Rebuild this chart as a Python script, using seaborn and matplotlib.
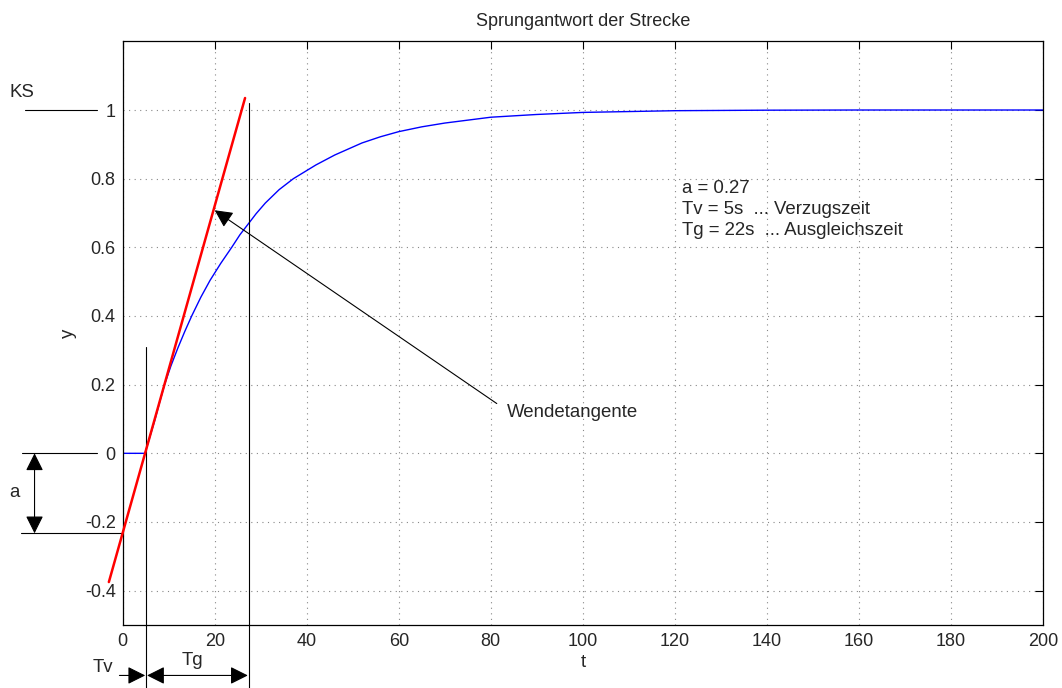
import matplotlib
matplotlib.use("Agg")
import matplotlib.pyplot as plt
import seaborn as sns
import pandas as pd

# ---- data ----
time_s = [0, 4.85, 6.0, 7.0, 8.0, 9.1, 10.5, 12.0, 13.5, 15.0, 17.0, 19.0, 21.3,
          23.7, 25.5, 27.4, 29.0, 31.0, 34.0, 37.1, 42.0, 46.1, 52.0, 56.0, 60.0,
          65.0, 70.0, 80.0, 90.0, 100.0, 120.0, 140.0, 160.0, 180.0, 200.0]
step_y = [0, 0, 0.052, 0.097, 0.147, 0.20, 0.255, 0.307, 0.355, 0.40, 0.455, 0.504,
          0.553, 0.60, 0.637, 0.67, 0.698, 0.729, 0.768, 0.80, 0.84, 0.869, 0.904,
          0.922, 0.937, 0.951, 0.962, 0.979, 0.987, 0.993, 0.998, 0.9995, 1.0, 1.0, 1.0]
tangent_t = [-3.0, 26.6]
tangent_y = [-0.375, 1.035]

Tv = 5.0          # Verzugszeit end
Tg_end = 27.4     # Tv + Tg
a_level = -0.233  # tangent intercept at t=0
KS = 1.0

x_ticks = list(range(0, 201, 20))
y_ticks = [-0.4, -0.2, 0, 0.2, 0.4, 0.6, 0.8, 1.0]
y_tick_labels = ["-0.4", "-0.2", "0", "0.2", "0.4", "0.6", "0.8", "1"]

title = "Sprungantwort der Strecke"
info_lines = ["a = 0.27", "Tv = 5s  ... Verzugszeit", "Tg = 22s  ... Ausgleichszeit"]

# ---- style ----
sns.set_style("white")
plt.rcParams["font.family"] = ["Liberation Sans", "DejaVu Sans"]
plt.rcParams["font.size"] = 13

FS = 13.4

fig = plt.figure(figsize=(10.62, 6.88), dpi=100)
ax = fig.add_axes([0.1155, 0.0916, 0.8666, 0.8483])

df_step = pd.DataFrame({"t": time_s, "y": step_y})
df_tan = pd.DataFrame({"t": tangent_t, "y": tangent_y})

sns.lineplot(data=df_step, x="t", y="y", ax=ax, color="#0000ff", lw=1.0, sort=False)
sns.lineplot(data=df_tan, x="t", y="y", ax=ax, color="#ff0000", lw=1.8, sort=False,
             clip_on=False, zorder=4)

ax.set_xlim(0, 200)
ax.set_ylim(-0.5, 1.2)
ax.set_xticks(x_ticks)
ax.set_xticklabels([str(v) for v in x_ticks])
ax.set_yticks(y_ticks)
ax.set_yticklabels(y_tick_labels)
ax.tick_params(direction="in", top=True, right=True, length=6, width=0.8,
               labelsize=13, color="black")
ax.tick_params(axis="x", pad=6)
ax.tick_params(axis="y", pad=5)
ax.grid(True, linestyle=(0, (1, 4)), color="#888888", lw=0.8)
for s in ax.spines.values():
    s.set_color("black")
    s.set_linewidth(0.9)

ax.set_xlabel("t", fontsize=FS, labelpad=3)
ax.set_ylabel("y", fontsize=FS, labelpad=6)
ax.set_title(title, fontsize=13, pad=11)

# ---- annotations ----
kw = dict(color="black", lw=0.8, clip_on=False)
# KS level line
ax.plot([-21.3, -5.66], [KS, KS], **kw)
ax.text(-24.6, 1.052, "KS", ha="left", va="center", fontsize=FS)
# zero level line
ax.plot([-21.8, -5.66], [0, 0], **kw)
# a level line
ax.plot([-22.1, 0], [a_level, a_level], **kw)
ax.text(-23.5, -0.114, "a", ha="center", va="center", fontsize=FS)

arrow_style2 = "<|-|>,head_length=0.6,head_width=0.3"
arrow_style1 = "-|>,head_length=0.6,head_width=0.3"
ax.annotate("", xy=(-19.15, a_level), xytext=(-19.15, 0),
            arrowprops=dict(arrowstyle=arrow_style2, mutation_scale=18, color="black",
                            lw=0.8, shrinkA=0, shrinkB=0, clip_on=False),
            annotation_clip=False)

# vertical lines for Tv and Tv+Tg
ax.plot([Tv, Tv], [0.31, -0.69], **kw)
ax.plot([Tg_end, Tg_end], [1.02, -0.69], **kw)

# Tv arrow and Tg double arrow under the axis
ax.annotate("", xy=(Tv - 0.1, -0.647), xytext=(-0.7, -0.647),
            arrowprops=dict(arrowstyle=arrow_style1, mutation_scale=18, color="black",
                            lw=0.8, shrinkA=0, shrinkB=0, clip_on=False),
            annotation_clip=False)
ax.annotate("", xy=(Tg_end - 0.2, -0.647), xytext=(Tv + 0.3, -0.647),
            arrowprops=dict(arrowstyle=arrow_style2, mutation_scale=18, color="black",
                            lw=0.8, shrinkA=0, shrinkB=0, clip_on=False),
            annotation_clip=False)
ax.text(-4.35, -0.624, "Tv", ha="center", va="center", fontsize=FS)
ax.text(15.2, -0.603, "Tg", ha="center", va="center", fontsize=FS)

# Wendetangente arrow
ax.annotate("", xy=(20.0, 0.708), xytext=(81.3, 0.145),
            arrowprops=dict(arrowstyle=arrow_style1, mutation_scale=18, color="black",
                            lw=0.8, shrinkA=0, shrinkB=0),
            annotation_clip=False)
ax.text(83.6, 0.12, "Wendetangente", ha="left", va="center", fontsize=FS)

# info text
for i, line in enumerate(info_lines):
    ax.text(121.5, 0.772 - i * 0.062, line, ha="left", va="center", fontsize=FS)

fig.savefig("out.png", dpi=100)
